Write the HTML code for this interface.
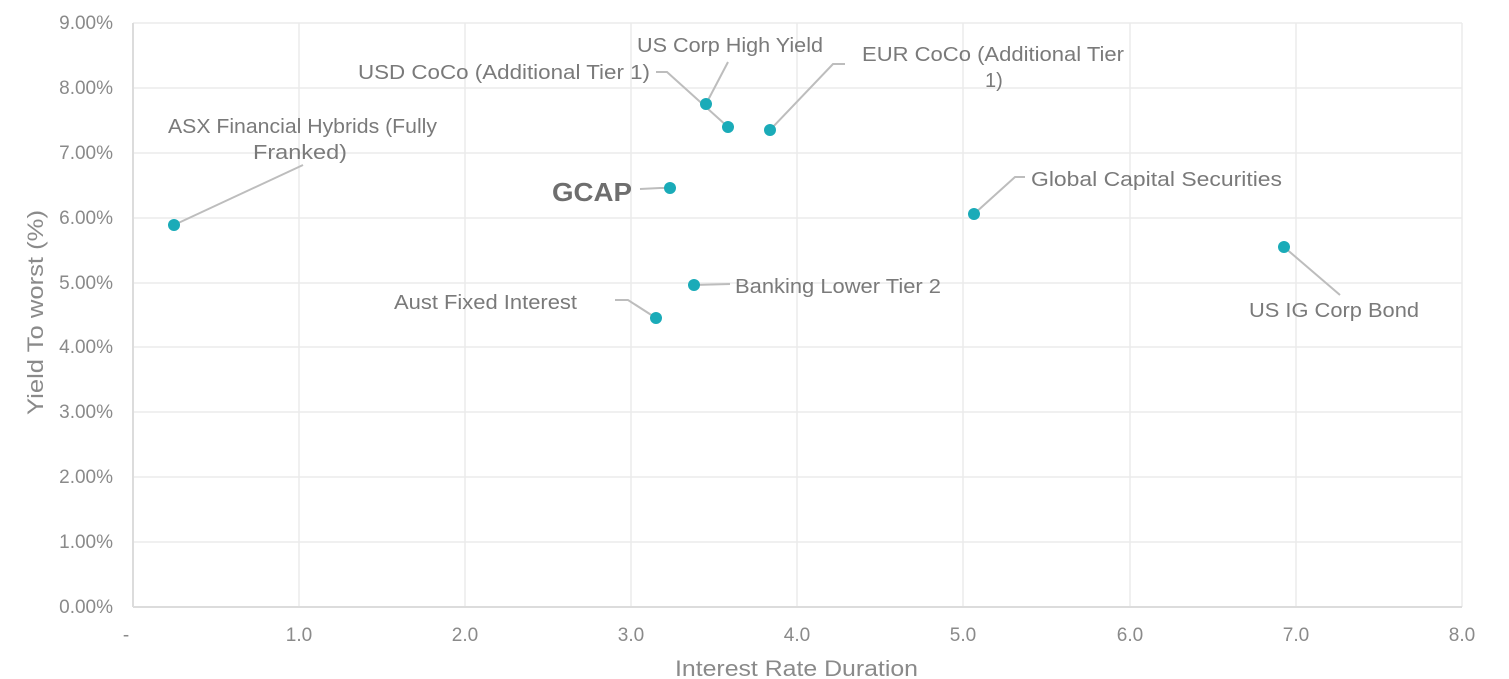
<!DOCTYPE html>
<html><head><meta charset="utf-8"><style>
html,body{margin:0;padding:0;background:#fff;}
svg{display:block;font-family:"Century Gothic","Liberation Sans",sans-serif;}
</style></head><body>
<svg width="1509" height="679" viewBox="0 0 1509 679" xmlns="http://www.w3.org/2000/svg">
<g stroke="#ebebeb" stroke-width="1.5" fill="none">
<line x1="133" y1="23" x2="1462" y2="23"/>
<line x1="133" y1="88" x2="1462" y2="88"/>
<line x1="133" y1="153" x2="1462" y2="153"/>
<line x1="133" y1="218" x2="1462" y2="218"/>
<line x1="133" y1="283" x2="1462" y2="283"/>
<line x1="133" y1="347" x2="1462" y2="347"/>
<line x1="133" y1="412" x2="1462" y2="412"/>
<line x1="133" y1="477" x2="1462" y2="477"/>
<line x1="133" y1="542" x2="1462" y2="542"/>
<line x1="299" y1="23" x2="299" y2="607"/>
<line x1="465" y1="23" x2="465" y2="607"/>
<line x1="631" y1="23" x2="631" y2="607"/>
<line x1="797" y1="23" x2="797" y2="607"/>
<line x1="963" y1="23" x2="963" y2="607"/>
<line x1="1130" y1="23" x2="1130" y2="607"/>
<line x1="1296" y1="23" x2="1296" y2="607"/>
<line x1="1462" y1="23" x2="1462" y2="607"/>
</g>
<g stroke="#dcdcdc" stroke-width="2"><line x1="133" y1="23" x2="133" y2="607"/><line x1="133" y1="607" x2="1462" y2="607"/></g>
<g fill="#8a8a8a" font-size="19" text-anchor="end">
<text x="113" y="29">9.00%</text><text x="113" y="94">8.00%</text><text x="113" y="159">7.00%</text>
<text x="113" y="224">6.00%</text><text x="113" y="289">5.00%</text><text x="113" y="353">4.00%</text>
<text x="113" y="418">3.00%</text><text x="113" y="483">2.00%</text><text x="113" y="548">1.00%</text>
<text x="113" y="613">0.00%</text>
</g>
<g fill="#8a8a8a" font-size="19" text-anchor="middle">
<text x="126" y="641">-</text><text x="299" y="641">1.0</text><text x="465" y="641">2.0</text>
<text x="631" y="641">3.0</text><text x="797" y="641">4.0</text><text x="963" y="641">5.0</text>
<text x="1130" y="641">6.0</text><text x="1296" y="641">7.0</text><text x="1462" y="641">8.0</text>
</g>
<g fill="#8a8a8a" font-size="22">
<text x="675" y="676" textLength="243" lengthAdjust="spacingAndGlyphs">Interest Rate Duration</text>
<text transform="translate(43,415) rotate(-90)" textLength="205" lengthAdjust="spacingAndGlyphs">Yield To worst (%)</text>
</g>
<g stroke="#bdbdbd" stroke-width="2" fill="none">
<polyline points="174,225 303,165"/>
<polyline points="706,104 728,62"/>
<polyline points="656,72 667,72 728,127"/>
<polyline points="770,130 833,64 845,64"/>
<polyline points="640,189 660,188 670,188"/>
<polyline points="974,214 1015,177 1025,177"/>
<polyline points="1284,247 1340,295"/>
<polyline points="694,285 730,284"/>
<polyline points="656,318 628,300 615,300"/>
</g>
<g fill="#1aabb8">
<circle cx="174" cy="225" r="6"/><circle cx="706" cy="104" r="6"/><circle cx="728" cy="127" r="6"/>
<circle cx="770" cy="130" r="6"/><circle cx="670" cy="188" r="6"/><circle cx="974" cy="214" r="6"/>
<circle cx="1284" cy="247" r="6"/><circle cx="694" cy="285" r="6"/><circle cx="656" cy="318" r="6"/>
</g>
<g fill="#7a7a7a" font-size="20" lengthAdjust="spacingAndGlyphs">
<text x="168" y="133" textLength="269" lengthAdjust="spacingAndGlyphs">ASX Financial Hybrids (Fully</text>
<text x="253" y="159" textLength="94" lengthAdjust="spacingAndGlyphs">Franked)</text>
<text x="637" y="52" textLength="186" lengthAdjust="spacingAndGlyphs">US Corp High Yield</text>
<text x="358" y="79" textLength="292" lengthAdjust="spacingAndGlyphs">USD CoCo (Additional Tier 1)</text>
<text x="862" y="61" textLength="262" lengthAdjust="spacingAndGlyphs">EUR CoCo (Additional Tier</text>
<text x="985" y="87">1)</text>
<text x="552" y="201" font-size="26" font-weight="bold" fill="#6e6e6e" textLength="80" lengthAdjust="spacingAndGlyphs">GCAP</text>
<text x="1031" y="186" textLength="251" lengthAdjust="spacingAndGlyphs">Global Capital Securities</text>
<text x="1249" y="317" textLength="170" lengthAdjust="spacingAndGlyphs">US IG Corp Bond</text>
<text x="735" y="293" textLength="206" lengthAdjust="spacingAndGlyphs">Banking Lower Tier 2</text>
<text x="394" y="309" textLength="183" lengthAdjust="spacingAndGlyphs">Aust Fixed Interest</text>
</g>
</svg>
</body></html>
